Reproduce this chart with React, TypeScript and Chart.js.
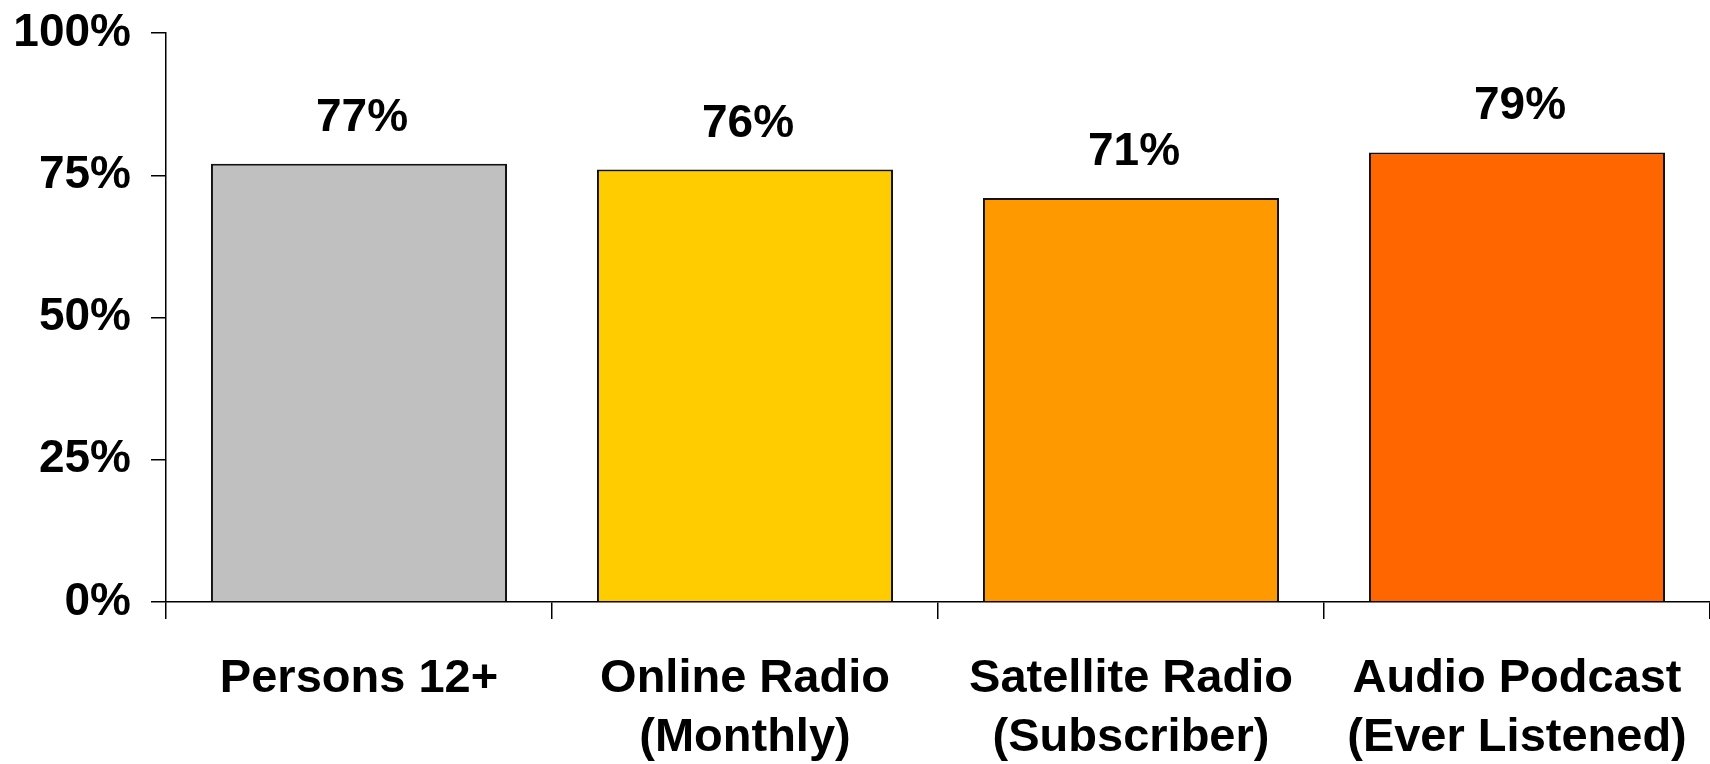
import React, { useEffect, useRef } from "react";
import { Chart, registerables } from "chart.js";

Chart.register(...registerables);

const categories: string[][] = [
  ["Persons 12+"],
  ["Online Radio", "(Monthly)"],
  ["Satellite Radio", "(Subscriber)"],
  ["Audio Podcast", "(Ever Listened)"],
];
const values: number[] = [77, 76, 71, 79];
const barColors: string[] = ["#C0C0C0", "#FFCC00", "#FF9900", "#FF6600"];
const yTicks: number[] = [0, 25, 50, 75, 100];

const FONT = "'Liberation Sans', Arial, Helvetica, sans-serif";

const valueLabels = {
  id: "valueLabels",
  afterDatasetsDraw(chart: any) {
    const ctx = chart.ctx;
    const meta = chart.getDatasetMeta(0);
    ctx.save();
    ctx.font = `bold 46px ${FONT}`;
    ctx.fillStyle = "#000";
    ctx.textAlign = "center";
    ctx.textBaseline = "alphabetic";
    meta.data.forEach((bar: any, i: number) => {
      ctx.fillText(values[i] + "%", bar.x + 3, bar.y - 33);
    });
    ctx.restore();
  },
};

export default function App() {
  const ref = useRef<HTMLCanvasElement>(null);
  useEffect(() => {
    if (!ref.current) return;
    const chart = new Chart(ref.current, {
      type: "bar",
      data: {
        labels: categories,
        datasets: [
          {
            data: values,
            backgroundColor: barColors,
            borderColor: "#111",
            borderWidth: 2,
            barPercentage: 0.767,
            categoryPercentage: 1,
          },
        ],
      },
      options: {
        responsive: false,
        animation: false,
        devicePixelRatio: 1,
        layout: { padding: { top: 33, left: 0, right: 0, bottom: 0 } },
        plugins: {
          legend: { display: false },
          tooltip: { enabled: false },
          title: { display: false },
        },
        scales: {
          x: {
            offset: true,
            grid: {
              display: true,
              drawOnChartArea: false,
              drawTicks: true,
              tickLength: 17,
              offset: true,
              color: "#000",
              lineWidth: 1.5,
            },
            border: { display: true, color: "#000", width: 1.5 },
            ticks: {
              color: "#000",
              font: { family: FONT, size: 47, weight: "bold", lineHeight: 1.25 },
              padding: 31,
              maxRotation: 0,
              autoSkip: false,
            },
            afterFit(scale: any) {
              scale.height = 162;
              scale.paddingLeft = 0;
              scale.paddingRight = 0;
            },
          },
          y: {
            min: 0,
            max: 100,
            afterBuildTicks(scale: any) {
              scale.ticks = yTicks.map((v) => ({ value: v }));
            },
            grid: {
              display: true,
              drawOnChartArea: false,
              drawTicks: true,
              tickLength: 15,
              color: "#000",
              lineWidth: 1.5,
            },
            border: { display: true, color: "#000", width: 1.5 },
            ticks: {
              color: "#000",
              font: { family: FONT, size: 46, weight: "bold" },
              padding: 20,
              callback: (v: any) => v + "%",
            },
            afterFit(scale: any) {
              scale.width = 166;
              scale.paddingTop = 0;
              scale.paddingBottom = 0;
            },
          },
        },
      },
      plugins: [valueLabels],
    });
    return () => chart.destroy();
  }, []);
  return (
    <div style={{ position: "absolute", left: 0, top: 0, width: 1710, height: 764, background: "#fff" }}>
      <canvas ref={ref} width={1710} height={764} />
    </div>
  );
}
